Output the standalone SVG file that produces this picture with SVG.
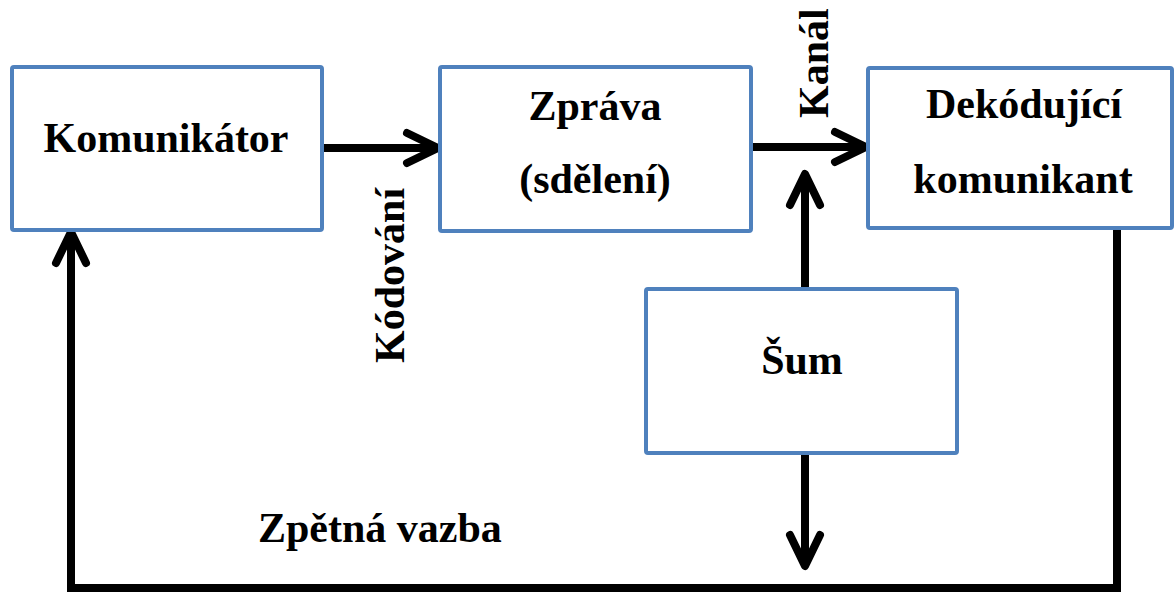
<svg xmlns="http://www.w3.org/2000/svg" width="1174" height="592" viewBox="0 0 1174 592">
<style>
.box{fill:#fff;stroke:#4F81BD;stroke-width:4}
.t{font-family:"Liberation Serif","Times New Roman",serif;font-weight:bold;font-size:42px;fill:#000}
.c{fill:none;stroke:#000;stroke-width:8}
</style>
<defs>
<marker id="ah" viewBox="-40 -22 46 44" markerWidth="46" markerHeight="44" refX="0" refY="0" markerUnits="userSpaceOnUse" orient="auto">
<path d="M-31,-15 L0,0 L-31,15" fill="none" stroke="#000" stroke-width="8" stroke-linecap="round" stroke-linejoin="round"/>
</marker>
</defs>
<rect width="1174" height="592" fill="#fff"/>
<g id="connectors">
<path class="c" d="M322,148 H438" marker-end="url(#ah)"/>
<path class="c" d="M751,147 H866" marker-end="url(#ah)"/>
<path class="c" d="M805,289 V174" marker-end="url(#ah)"/>
<path class="c" d="M805,453 V566" marker-end="url(#ah)"/>
<path class="c" d="M1117,229 V588 H71 V232" marker-end="url(#ah)"/>
</g>
<g id="komunikator">
<rect class="box" x="12" y="67" width="310" height="163" rx="2"/>
<text class="t" x="166" y="152" text-anchor="middle">Komunikátor</text>
</g>
<g id="zprava">
<rect class="box" x="440" y="67" width="311" height="164" rx="2"/>
<text class="t" x="595" y="120" text-anchor="middle">Zpráva</text>
<text class="t" x="595" y="193" text-anchor="middle">(sdělení)</text>
</g>
<g id="dekodujici">
<rect class="box" x="868" y="68" width="304" height="160" rx="2"/>
<text class="t" x="1024" y="118" text-anchor="middle">Dekódující</text>
<text class="t" x="1023" y="193" text-anchor="middle">komunikant</text>
</g>
<g id="sum">
<rect class="box" x="646" y="289" width="311" height="164" rx="2"/>
<text class="t" x="802" y="374" text-anchor="middle">Šum</text>
</g>
<g id="labels">
<text class="t" transform="translate(828,118) rotate(-90)">Kanál</text>
<text class="t" transform="translate(404,363) rotate(-90)">Kódování</text>
<text class="t" x="258" y="542">Zpětná vazba</text>
</g>
</svg>
